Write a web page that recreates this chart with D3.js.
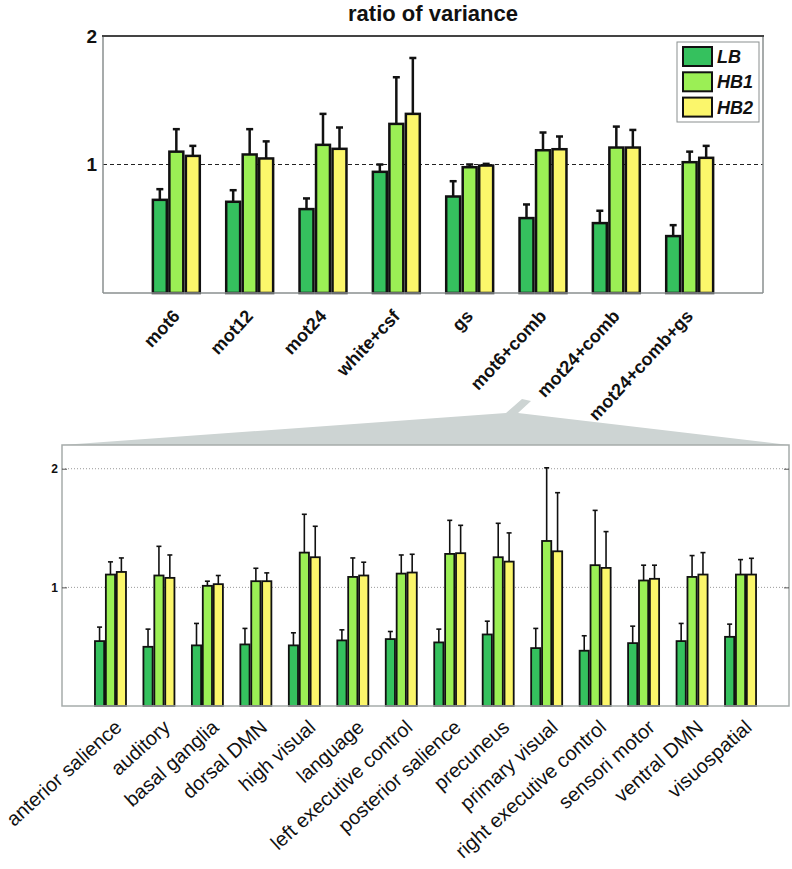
<!DOCTYPE html>
<html><head><meta charset="utf-8">
<script src="https://cdn.jsdelivr.net/npm/d3@7"></script>
<style>
html,body{margin:0;padding:0;background:#fff;}
svg{display:block;font-family:"Liberation Sans",Arial,Helvetica,sans-serif;}
</style></head>
<body><svg id="chart" width="792" height="869"></svg>
<script>
// ---------- data: top panel ----------
const topCategories = ["mot6","mot12","mot24","white+csf","gs","mot6+comb","mot24+comb","mot24+comb+gs"];
const topLB      = [0.725,0.71,0.653,0.943,0.751,0.583,0.544,0.443];
const topLBUp    = [0.808,0.80,0.736,1.00,0.870,0.689,0.640,0.528];
const topHB1     = [1.10,1.078,1.153,1.316,0.979,1.111,1.132,1.018];
const topHB1Up   = [1.275,1.275,1.394,1.679,1.00,1.249,1.295,1.10];
const topHB2     = [1.067,1.047,1.122,1.394,0.992,1.119,1.132,1.052];
const topHB2Up   = [1.145,1.18,1.288,1.829,1.005,1.218,1.269,1.145];
const topYTicks  = [1,2];

// ---------- data: bottom panel ----------
const botCategories = ["anterior salience","auditory","basal ganglia","dorsal DMN","high visual","language",
  "left executive control","posterior salience","precuneus","primary visual","right executive control",
  "sensori motor","ventral DMN","visuospatial"];
const botLB    = [0.547,0.499,0.511,0.519,0.511,0.553,0.564,0.536,0.603,0.488,0.466,0.530,0.547,0.583];
const botLBUp  = [0.665,0.648,0.696,0.654,0.617,0.642,0.628,0.648,0.715,0.654,0.592,0.673,0.696,0.690];
const botHB1   = [1.108,1.10,1.013,1.052,1.293,1.088,1.116,1.282,1.254,1.391,1.187,1.058,1.088,1.108];
const botHB1Up = [1.215,1.346,1.052,1.161,1.616,1.248,1.273,1.565,1.54,2.008,1.649,1.187,1.268,1.234];
const botHB2   = [1.130,1.08,1.027,1.052,1.254,1.10,1.125,1.288,1.217,1.304,1.164,1.072,1.108,1.108];
const botHB2Up = [1.248,1.273,1.10,1.122,1.515,1.212,1.279,1.523,1.459,1.798,1.47,1.187,1.293,1.245];
const botYTicks = [1,2];

const seriesNames = ["LB","HB1","HB2"];
const colors = ["#35c15e","#9bef55","#fbf66b"];

const svg = d3.select("#chart");

function panel(opt){
  const {x, y, vals, ups, stroke, errW, capW} = opt;
  const g = svg.append("g");
  const off = [-0.225, 0, 0.225];
  const bw = 0.19;
  vals.forEach((arr, s) => {
    const gs = g.append("g");
    gs.selectAll("rect").data(arr).join("rect")
      .attr("x", (d,i) => x(i+1+off[s]-bw/2))
      .attr("width", x(bw) - x(0))
      .attr("y", d => y(d))
      .attr("height", d => y(0) - y(d))
      .attr("fill", colors[s]).attr("stroke", "#111").attr("stroke-width", stroke);
    gs.selectAll("line.eb").data(ups[s]).join("line").attr("class","eb")
      .attr("x1", (d,i) => x(i+1+off[s])).attr("x2", (d,i) => x(i+1+off[s]))
      .attr("y1", (d,i) => y(arr[i])).attr("y2", d => y(d))
      .attr("stroke", "#111").attr("stroke-width", errW);
    gs.selectAll("line.cap").data(ups[s]).join("line").attr("class","cap")
      .attr("x1", (d,i) => x(i+1+off[s]) - capW/2).attr("x2", (d,i) => x(i+1+off[s]) + capW/2)
      .attr("y1", d => y(d)).attr("y2", d => y(d))
      .attr("stroke", "#111").attr("stroke-width", errW);
  });
  return g;
}

// ---------- top panel ----------
const xTop = d3.scaleLinear().domain([0,9]).range([103,763]);
const yTop = d3.scaleLinear().domain([0,2]).range([293,36]);

svg.append("line").attr("x1", xTop(0)).attr("x2", xTop(9))
  .attr("y1", yTop(1)).attr("y2", yTop(1))
  .attr("stroke", "#222").attr("stroke-width", 1).attr("stroke-dasharray", "4,3");

panel({x:xTop, y:yTop, vals:[topLB,topHB1,topHB2], ups:[topLBUp,topHB1Up,topHB2Up], stroke:2.5, errW:2.5, capW:7});

svg.append("line").attr("x1",xTop(0)).attr("x2",xTop(0)).attr("y1",yTop(2)).attr("y2",yTop(0)).attr("stroke","#8a8f8f").attr("stroke-width",1.5);
svg.append("line").attr("x1",xTop(9)).attr("x2",xTop(9)).attr("y1",yTop(2)).attr("y2",yTop(0)).attr("stroke","#8a8f8f").attr("stroke-width",1.5);
svg.append("line").attr("x1",xTop(0)).attr("x2",xTop(9)).attr("y1",yTop(0)).attr("y2",yTop(0)).attr("stroke","#8a8f8f").attr("stroke-width",1.5);
svg.append("line").attr("x1",xTop(0)-1).attr("x2",xTop(9)+1).attr("y1",yTop(2)).attr("y2",yTop(2)).attr("stroke","#444").attr("stroke-width",2.2);

const yAxTop = svg.append("g").attr("transform", `translate(${xTop(0)},0)`)
  .call(d3.axisLeft(yTop).tickValues(topYTicks).tickSize(0).tickPadding(6).tickFormat(d3.format("d")));
yAxTop.select(".domain").remove();
yAxTop.selectAll("text").attr("font-size", 19).attr("font-weight", "bold").attr("fill", "#111")
  .attr("font-family", "Liberation Sans, Arial, sans-serif");

const xAxTop = svg.append("g").attr("transform", `translate(0,${yTop(0)})`)
  .call(d3.axisBottom(xTop).tickValues(d3.range(1, topCategories.length+1)).tickSize(0).tickFormat(i => topCategories[i-1]));
xAxTop.select(".domain").remove();
xAxTop.selectAll("text").attr("font-size", 18).attr("font-weight", "bold").attr("fill", "#111")
  .attr("font-family", "Liberation Sans, Arial, sans-serif")
  .attr("text-anchor", "end").attr("x", 0).attr("y", 0).attr("dy", 0)
  .attr("transform", "translate(4,24) rotate(-47)");

svg.append("text").attr("x", (xTop(0)+xTop(9))/2).attr("y", 21).attr("text-anchor", "middle")
  .attr("font-size", 22).attr("font-weight", "bold").attr("fill", "#111").text("ratio of variance");

const leg = svg.append("g");
leg.append("rect").attr("x", 677).attr("y", 42).attr("width", 82).attr("height", 80)
  .attr("fill", "#fff").attr("stroke", "#8a8f8f").attr("stroke-width", 1);
seriesNames.forEach((n, i) => {
  leg.append("rect").attr("x", 683).attr("y", 47 + i*25.3).attr("width", 29).attr("height", 19)
    .attr("fill", colors[i]).attr("stroke", "#111").attr("stroke-width", 2);
  leg.append("text").attr("x", 717).attr("y", 56.5 + i*25.3).attr("dy", "0.36em")
    .attr("font-size", 18).attr("font-weight", "bold").attr("font-style", "italic").attr("fill", "#111").text(n);
});

// ---------- bottom panel ----------
const xBot = d3.scaleLinear().domain([0,15]).range([62,789]);
const yBot = d3.scaleLinear().domain([0,2.2]).range([706,445]);

const fx0 = xBot(0), fx1 = xBot(15), fy = yBot(2.2);
svg.append("path")
  .attr("d", `M${fx0},${fy} L506,413 L522,399 L531,401 L518,413 L${fx1},${fy} Z`)
  .attr("fill", "#cdd4d3").attr("stroke", "none");

svg.append("rect").attr("x", fx0).attr("y", fy).attr("width", fx1-fx0).attr("height", yBot(0)-fy).attr("fill", "#fff");

svg.append("g").selectAll("line").data(botYTicks).join("line")
  .attr("x1", xBot(0)).attr("x2", xBot(15)).attr("y1", d => yBot(d)).attr("y2", d => yBot(d))
  .attr("stroke", "#999").attr("stroke-width", 1).attr("stroke-dasharray", "1,2");

panel({x:xBot, y:yBot, vals:[botLB,botHB1,botHB2], ups:[botLBUp,botHB1Up,botHB2Up], stroke:1.8, errW:1.6, capW:5});

svg.append("rect").attr("x", fx0).attr("y", fy).attr("width", fx1-fx0).attr("height", yBot(0)-fy)
  .attr("fill", "none").attr("stroke", "#a6acab").attr("stroke-width", 1.5);

const yAxBot = svg.append("g").attr("transform", `translate(${xBot(0)},0)`)
  .call(d3.axisRight(yBot).tickValues(botYTicks).tickSize(5).tickFormat(d3.format("d")));
yAxBot.select(".domain").remove();
yAxBot.selectAll("line").attr("stroke", "#555");
yAxBot.selectAll("text").attr("font-size", 12).attr("font-weight", "bold").attr("fill", "#111")
  .attr("text-anchor", "end").attr("x", -4).attr("font-family", "Liberation Sans, Arial, sans-serif");
const yAxBotR = svg.append("g").attr("transform", `translate(${xBot(15)},0)`)
  .call(d3.axisLeft(yBot).tickValues(botYTicks).tickSize(5).tickFormat(""));
yAxBotR.select(".domain").remove();
yAxBotR.selectAll("line").attr("stroke", "#555");

const xAxBot = svg.append("g").attr("transform", `translate(0,${yBot(0)})`)
  .call(d3.axisBottom(xBot).tickValues(d3.range(1, botCategories.length+1)).tickSize(0).tickFormat(i => botCategories[i-1]));
xAxBot.select(".domain").remove();
xAxBot.selectAll("text").attr("font-size", 20).attr("fill", "#111")
  .attr("font-family", "Liberation Sans, Arial, sans-serif")
  .attr("text-anchor", "end").attr("x", 0).attr("y", 0).attr("dy", 0)
  .attr("transform", "translate(12,23) rotate(-42)");
</script></body></html>
